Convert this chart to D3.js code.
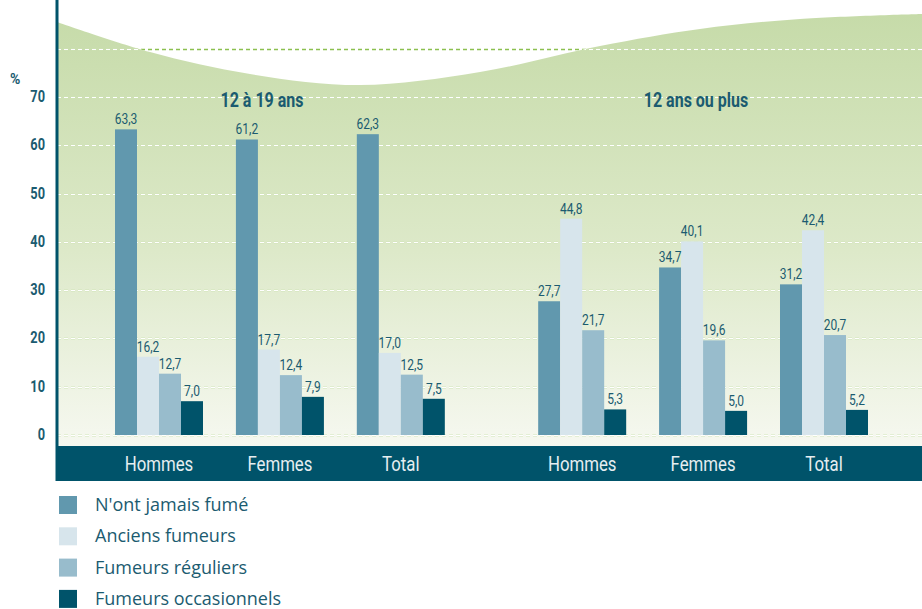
<!DOCTYPE html>
<html>
<head>
<meta charset="utf-8">
<script src="https://cdn.jsdelivr.net/npm/d3@7"></script>
<style>
  body { margin: 0; background: #fff; }
  svg { display: block; }
</style>
</head>
<body>
<script>
// data
const sections = ["12 à 19 ans", "12 ans ou plus"];
const groups = ["Hommes", "Femmes", "Total"];
const series = ["N'ont jamais fumé", "Anciens fumeurs", "Fumeurs réguliers", "Fumeurs occasionnels"];
const colors = ["#6198ae", "#d7e5ec", "#98bccc", "#00536a"];
const values12to19 = [
  [63.3, 16.2, 12.7, 7.0],
  [61.2, 17.7, 12.4, 7.9],
  [62.3, 17.0, 12.5, 7.5]
];
const values12plus = [
  [27.7, 44.8, 21.7, 5.3],
  [34.7, 40.1, 19.6, 5.0],
  [31.2, 42.4, 20.7, 5.2]
];
const yTicks = [0, 10, 20, 30, 40, 50, 60, 70];
const gridLines = [0, 10, 20, 30, 40, 50, 60, 70, 80];

const W = 922, H = 609;
const axisX = 57;
const dark = "#00536a";
const textCol = "#1b5b70";
const cond = "Roboto, 'Liberation Sans', sans-serif";
const squeeze = 0.8; // fake a condensed face

const svg = d3.select("body").append("svg")
    .attr("width", W)
    .attr("height", H);

const y = d3.scaleLinear().domain([0, 70]).range([435, 97]);
// slot index: second section is shifted by half a slot
const x0 = d3.scaleLinear().domain([0, 5.5]).range([159, 824]);
const x1 = d3.scaleBand().domain(series).range([-44, 44]).padding(0);

const rows = [];
[values12to19, values12plus].forEach((vals, s) => {
  vals.forEach((v, g) => {
    const slot = s * 3.5 + g;
    v.forEach((val, k) => rows.push({ section: s, group: groups[g], slot, series: series[k], k, value: val }));
  });
});

// background wave
const defs = svg.append("defs");
const grad = defs.append("linearGradient")
    .attr("id", "bg").attr("x1", 0).attr("y1", 0).attr("x2", 0).attr("y2", 1);
grad.append("stop").attr("offset", "0%").attr("stop-color", "#c6dba9");
grad.append("stop").attr("offset", "55%").attr("stop-color", "#dde9c9");
grad.append("stop").attr("offset", "100%").attr("stop-color", "#f6f8f0");

const wavePts = [[axisX, 22], [150, 52], [250, 74], [360, 85], [480, 72], [600, 46], [700, 29], [800, 19], [922, 14]];
const wave = d3.line().curve(d3.curveCatmullRom)(wavePts);
const areaPath = wave + `L${W},446L${axisX},446Z`;

defs.append("clipPath").attr("id", "waveClip")
  .append("path").attr("d", areaPath);

svg.append("path")
    .attr("d", areaPath)
    .attr("fill", "url(#bg)");

// grid lines: green dashes outside the wave, white inside
const grid = svg.append("g");
grid.selectAll("line.g1")
  .data(gridLines)
  .join("line")
    .attr("x1", axisX).attr("x2", W)
    .attr("y1", d => Math.round(y(d)) + 0.5).attr("y2", d => Math.round(y(d)) + 0.5)
    .attr("stroke", "#8cc04f")
    .attr("stroke-width", 1.5)
    .attr("stroke-dasharray", "4,3");
grid.selectAll("line.g2")
  .data(gridLines)
  .join("line")
    .attr("clip-path", "url(#waveClip)")
    .attr("x1", axisX).attr("x2", W)
    .attr("y1", d => Math.round(y(d)) + 0.5).attr("y2", d => Math.round(y(d)) + 0.5)
    .attr("stroke", "#ffffff")
    .attr("stroke-width", 1.5)
    .attr("stroke-dasharray", "4,3");

// bars
svg.append("g").selectAll("rect")
  .data(rows)
  .join("rect")
    .attr("x", d => x0(d.slot) + x1(d.series))
    .attr("y", d => y(d.value))
    .attr("width", x1.bandwidth())
    .attr("height", d => y(0) - y(d.value))
    .attr("fill", d => colors[d.k]);

// value labels
svg.append("g").selectAll("text")
  .data(rows)
  .join("text")
    .attr("transform", d => `translate(${x0(d.slot) + x1(d.series) + x1.bandwidth() / 2},${y(d.value) - 5}) scale(${squeeze},1)`)
    .attr("text-anchor", "middle")
    .attr("font-family", cond)
    .attr("font-size", 15)
    .attr("fill", textCol)
    .text(d => d.value.toFixed(1).replace(".", ","));

// section titles
svg.append("g").selectAll("text")
  .data(sections)
  .join("text")
    .attr("transform", (d, i) => `translate(${i === 0 ? 262 : 696},107) scale(${squeeze},1)`)
    .attr("text-anchor", "middle")
    .attr("font-family", cond)
    .attr("font-weight", "bold")
    .attr("font-size", 20)
    .attr("fill", textCol)
    .text(d => d);

// bottom band
svg.append("rect")
    .attr("x", axisX).attr("y", 446)
    .attr("width", W - axisX).attr("height", 35)
    .attr("fill", dark);

svg.append("g").selectAll("text")
  .data(rows.filter(d => d.k === 0))
  .join("text")
    .attr("transform", d => `translate(${x0(d.slot)},471) scale(${squeeze},1)`)
    .attr("text-anchor", "middle")
    .attr("font-family", cond)
    .attr("font-size", 21)
    .attr("fill", "#e6eef1")
    .text(d => d.group);

// left axis line
svg.append("rect")
    .attr("x", axisX - 1.5).attr("y", 0)
    .attr("width", 3).attr("height", 481)
    .attr("fill", dark);

// y tick labels
svg.append("g").selectAll("text")
  .data(yTicks)
  .join("text")
    .attr("transform", d => `translate(45,${y(d) + 5}) scale(${squeeze},1)`)
    .attr("text-anchor", "end")
    .attr("font-family", cond)
    .attr("font-weight", "bold")
    .attr("font-size", 16)
    .attr("fill", textCol)
    .text(d => d);

svg.append("text")
    .attr("x", 10).attr("y", 84)
    .attr("font-family", cond)
    .attr("font-weight", "bold")
    .attr("font-size", 14)
    .attr("fill", textCol)
    .text("%");

// legend
const legend = svg.append("g").selectAll("g")
  .data(series)
  .join("g")
    .attr("transform", (d, i) => `translate(59,${505 + i * 31.3})`);
legend.append("rect")
    .attr("x", 0).attr("y", -9)
    .attr("width", 18).attr("height", 18)
    .attr("fill", (d, i) => colors[i]);
legend.append("text")
    .attr("x", 36).attr("y", 6)
    .attr("font-family", "'Open Sans', sans-serif")
    .attr("font-size", 18)
    .attr("fill", textCol)
    .text(d => d);
</script>
</body>
</html>
